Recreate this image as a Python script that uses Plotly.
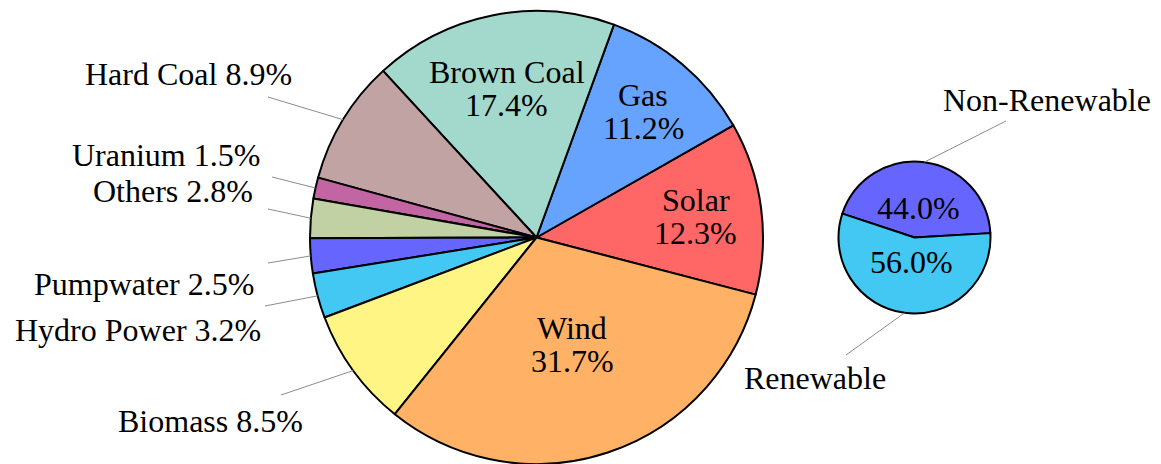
import math
import plotly.graph_objects as go

W, H = 1161, 464

# Electricity generation by source (share of total, %)
sources = ["Solar", "Gas", "Brown Coal", "Hard Coal", "Uranium", "Others",
           "Pumpwater", "Hydro Power", "Biomass", "Wind"]
source_shares = [12.3, 11.2, 17.4, 8.9, 1.5, 2.8, 2.5, 3.2, 8.5, 31.7]
source_colors = ["#ff6666", "#66a3ff", "#a3d9cc", "#c2a3a3", "#c266a3",
                 "#c2d1a3", "#6666ff", "#42c8f2", "#fff585", "#ffb266"]

# Renewable vs non-renewable split (%)
groups = ["Non-Renewable", "Renewable"]
group_shares = [44.0, 56.0]
group_colors = ["#6666ff", "#42c8f2"]

FONT = dict(family="Liberation Serif", size=32, color="black")

# pie geometry in pixels: centre x, centre y, radius, first-slice start angle (deg, ccw from +x)
MAIN = dict(cx=536.5, cy=237.5, r=226.5, start=-14.6)
SMALL = dict(cx=914.5, cy=237.5, r=76.0, start=3.3)

# labels drawn inside their slice: radial position as fraction of radius
main_inside = {"Solar": 0.71, "Gas": 0.73, "Brown Coal": 0.67, "Wind": 0.50}
small_inside = {"Non-Renewable": 0.39, "Renewable": 0.33}

# pinned labels: leader-line end (px), text anchor (px), horizontal anchor
main_pins = {
    "Hard Coal": ((268, 97), (294, 74), "right"),
    "Uranium": ((272, 177), (262, 155), "right"),
    "Others": ((268, 209), (255, 191), "right"),
    "Pumpwater": ((268, 263), (256, 284), "right"),
    "Hydro Power": ((265, 306), (263, 330), "right"),
    "Biomass": ((281, 395), (305, 421), "right"),
}
small_pins = {
    "Non-Renewable": ((1006, 121), (1047, 100), "center"),
    "Renewable": ((846, 355), (815, 378), "center"),
}


def px(x):
    return x / W


def py(y):
    return 1 - y / H


def mid_angles(shares, start):
    total = sum(shares)
    out, a = [], start
    for s in shares:
        span = 360.0 * s / total
        out.append(a + span / 2)
        a += span
    return out


def domain(g):
    return dict(x=[px(g["cx"] - g["r"]), px(g["cx"] + g["r"])],
                y=[py(g["cy"] + g["r"]), py(g["cy"] - g["r"])])


def rotation(g, shares):
    # plotly: with counterclockwise direction the first slice spans [rot, rot + a1]
    a1 = 360.0 * shares[0] / sum(shares)
    return 90.0 - g["start"] - a1


fig = go.Figure()
for g, labels, shares, colors in [(MAIN, sources, source_shares, source_colors),
                                  (SMALL, groups, group_shares, group_colors)]:
    fig.add_trace(go.Pie(
        labels=labels, values=shares, sort=False, direction="counterclockwise",
        rotation=rotation(g, shares), textinfo="none", hoverinfo="label+percent",
        marker=dict(colors=colors, line=dict(color="black", width=2)),
        domain=domain(g), showlegend=False,
    ))

annotations, shapes = [], []


def add_labels(g, labels, shares, inside, pins, two_line):
    mids = mid_angles(shares, g["start"])
    for lab, val, ang in zip(labels, shares, mids):
        t = math.radians(ang)
        pct = f"{val:.1f}%"
        if lab in inside:
            rr = inside[lab] * g["r"]
            x = g["cx"] + rr * math.cos(t)
            y = g["cy"] - rr * math.sin(t)
            lines = [lab, pct] if two_line else [pct]
            n = len(lines)
            for i, txt in enumerate(lines):
                yy = y + (i - (n - 1) / 2) * 33
                annotations.append(dict(x=px(x), y=py(yy), xref="paper", yref="paper",
                                        text=txt, showarrow=False, font=FONT,
                                        xanchor="center", yanchor="middle"))
        if lab in pins:
            (ex, ey), (tx, ty), anchor = pins[lab]
            sx = g["cx"] + g["r"] * math.cos(t)
            sy = g["cy"] - g["r"] * math.sin(t)
            shapes.append(dict(type="line", xref="paper", yref="paper",
                               x0=px(sx), y0=py(sy), x1=px(ex), y1=py(ey),
                               line=dict(color="#8c8c8c", width=1)))
            txt = f"{lab} {pct}" if two_line else lab
            annotations.append(dict(x=px(tx), y=py(ty), xref="paper", yref="paper",
                                    text=txt, showarrow=False, font=FONT,
                                    xanchor=anchor, yanchor="middle"))


add_labels(MAIN, sources, source_shares, main_inside, main_pins, True)
add_labels(SMALL, groups, group_shares, small_inside, small_pins, False)

fig.update_layout(
    width=W, height=H, margin=dict(l=0, r=0, t=0, b=0),
    paper_bgcolor="white", plot_bgcolor="white",
    annotations=annotations, shapes=shapes,
)

fig.write_html("out.html")
